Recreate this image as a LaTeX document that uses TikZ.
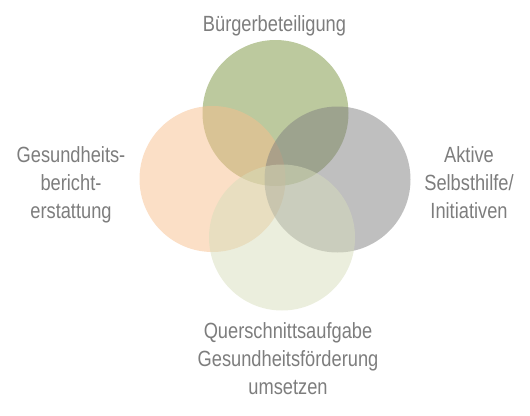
\documentclass[tikz,border=0pt]{standalone}
\usepackage{fontspec}
\setmainfont{Liberation Sans}[FakeStretch=0.83]
\definecolor{cgreen}{RGB}{188,201,158}
\definecolor{corange}{RGB}{247,191,141}
\definecolor{cgray}{RGB}{127,127,127}
\definecolor{clight}{RGB}{215,221,187}
\definecolor{ctext}{RGB}{125,125,125}
\begin{document}
\begin{tikzpicture}[x=1pt,y=-1pt,
  disc/.style={circle,minimum size=146pt,inner sep=0pt,draw=none},
  lbl/.style={anchor=base,align=center,text=ctext,inner sep=0pt,font=\fontsize{22}{28}\selectfont}]
\useasboundingbox (0,0) rectangle (530,415);
\node[disc,fill=cgreen] (top) at (275.5,113) {};
\node[disc,fill=corange,fill opacity=0.5] (left) at (212.5,179) {};
\node[disc,fill=cgray,fill opacity=0.5] (right) at (337.5,179.5) {};
\node[disc,fill=clight,fill opacity=0.5] (bottom) at (282,237.5) {};
\node[lbl] (ttop) at (274.5,31) {Bürgerbeteiligung};
\node[lbl] (tleft) at (71,218) {Gesundheits-\\bericht-\\erstattung};
\node[lbl] (tright) at (469,218) {Aktive\\Selbsthilfe/\\Initiativen};
\node[lbl] (tbottom) at (288,394) {Querschnittsaufgabe\\Gesundheitsförderung\\umsetzen};
\end{tikzpicture}
\end{document}
